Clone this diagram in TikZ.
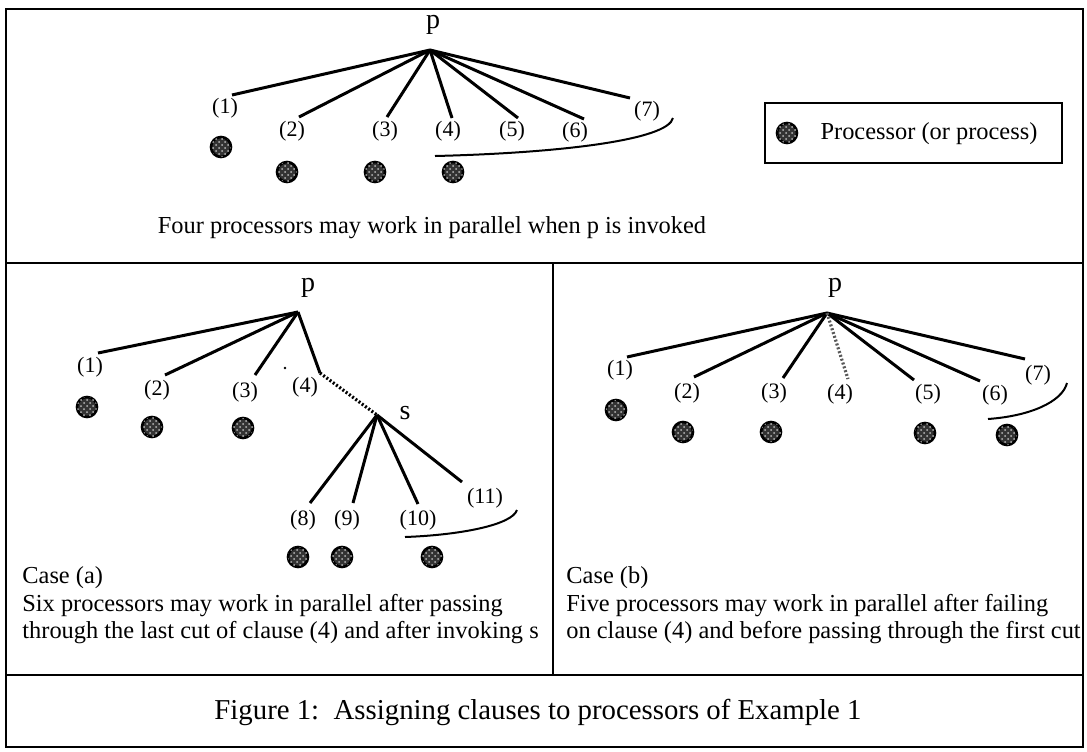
\documentclass[tikz,border=0pt]{standalone}
\usepackage{fontspec}
\setmainfont{Liberation Serif}
\usetikzlibrary{patterns}

\tikzset{
  frame/.style={line width=1.3pt},
  branch/.style={line width=1.5pt},
  probe/.style={line width=1.6pt, dash pattern=on 1pt off 1pt},
  cutline/.style={line width=1pt},
  proc/.style={circle, draw=black, line width=1.3pt, fill=gray!40!black,
    postaction={pattern=crosshatch dots, pattern color=gray!55},
    minimum size=10pt, inner sep=0pt},
  clab/.style={font=\fontsize{11}{13}\selectfont, inner sep=0pt},
  goal/.style={font=\fontsize{14}{16}\selectfont, inner sep=0pt},
  note/.style={font=\fontsize{12.2}{14}\selectfont, inner sep=0pt},
}

\begin{document}
\begin{tikzpicture}[x=0.5pt,y=-0.5pt]
\useasboundingbox (0,0) rectangle (1087,751);

% frame and panels
\draw[frame] (6,9) rectangle (1083,747);
\draw[frame] (6,263) -- (1083,263);
\draw[frame] (6,675) -- (1083,675);
\draw[frame] (553,263) -- (553,675);

%%% top panel: p is invoked
\node[goal] (p0) at (433,25) {p};
\coordinate (r0) at (430,50);
\foreach \n/\ex/\ey/\lx/\ly in {1/232/95/225/108, 2/299/117/292/131, 3/387/117/385/131,
    4/452/118/448/131, 5/518/118/512/131, 6/584/119/575/132, 7/630/98/647/111}{
  \coordinate (t\n) at (\ex,\ey);
  \draw[branch] (r0) -- (t\n);
  \node[clab] (tl\n) at (\lx,\ly) {(\n)};
}
\foreach \i/\x/\y in {1/221/147, 2/287/172, 3/375/172, 4/453/172}
  \node[proc] (tq\i) at (\x,\y) {};

% cut
\coordinate (tc0) at (435,156);
\coordinate (tc1) at (673,118);
\draw[cutline] (tc0) .. controls (560,153) and (668,140) .. (tc1);

\node[note] (tnote) at (432,228) {Four processors may work in parallel when p is invoked};

% legend
\node[draw, line width=1.4pt, minimum width=148.5pt, minimum height=30pt] (key) at (913.5,133) {};
\node[proc] (keyq) at (787,133) {};
\node[note] (keyt) at (929,134) {Processor (or process)};

%%% case (a)
\node[goal] (p1) at (308,288) {p};
\coordinate (r1) at (298,312);
\foreach \n/\ex/\ey/\lx/\ly in {1/98/353/90/367, 2/165/375/157/390, 3/255/375/245/392}{
  \coordinate (a\n) at (\ex,\ey);
  \draw[branch] (r1) -- (a\n);
  \node[clab] (al\n) at (\lx,\ly) {(\n)};
}
\coordinate (a4) at (320,373);
\draw[branch] (r1) -- (a4);
\node[clab] (al4) at (305,387) {(4)};
\fill (285,368) circle (1.3);

\node[goal] (s1) at (405,413) {s};
\coordinate (r2) at (377,415);
\draw[probe] (a4) -- (r2);
\foreach \n/\ex/\ey/\lx/\ly in {8/310/503/303/520, 9/353/503/347/520,
    10/418/504/418/520, 11/462/482/485/498}{
  \coordinate (a\n) at (\ex,\ey);
  \draw[branch] (r2) -- (a\n);
  \node[clab] (al\n) at (\lx,\ly) {(\n)};
}
\foreach \i/\x/\y in {1/87/407, 2/152/427, 3/243/428, 4/298/557, 5/342/557, 6/432/557}
  \node[proc] (aq\i) at (\x,\y) {};

% cut
\coordinate (ac0) at (405,537);
\coordinate (ac1) at (517,510);
\draw[cutline] (ac0) .. controls (460,535) and (512,525) .. (ac1);

\node[note, anchor=west] (anote0) at (22,578) {Case (a)};
\node[note, anchor=west] (anote1) at (22,606) {Six processors may work in parallel after passing};
\node[note, anchor=west] (anote2) at (22,633) {through the last cut of clause (4) and after invoking s};

%%% case (b)
\node[goal] (p2) at (835,288) {p};
\coordinate (r3) at (827,313);
\foreach \n/\ex/\ey/\lx/\ly in {1/627/357/620/370, 2/694/377/687/393, 3/783/378/774/393,
    5/914/380/928/394, 6/980/381/995/395, 7/1025/359/1038/375}{
  \coordinate (b\n) at (\ex,\ey);
  \draw[branch] (r3) -- (b\n);
  \node[clab] (bl\n) at (\lx,\ly) {(\n)};
}
\coordinate (b4) at (848,379);
\draw[probe, gray!70!black] (r3) -- (b4);
\node[clab] (bl4) at (840,394) {(4)};
\foreach \i/\x/\y in {1/616/410, 2/683/432, 3/771/432, 5/925/433, 6/1007/435}
  \node[proc] (bq\i) at (\x,\y) {};

% cut
\coordinate (bc0) at (988,419);
\coordinate (bc1) at (1067,383);
\draw[cutline] (bc0) .. controls (1030,416) and (1062,402) .. (bc1);

\node[note, anchor=west] (bnote0) at (566,578) {Case (b)};
\node[note, anchor=west] (bnote1) at (566,606) {Five processors may work in parallel after failing};
\node[note, anchor=west] (bnote2) at (566,633) {on clause (4) and before passing through the first cut};

%%% caption
\node[goal, font=\fontsize{14.4}{16}\selectfont] (cap) at (538,712) {Figure 1:\ \ Assigning clauses to processors of Example 1};

\end{tikzpicture}
\end{document}
